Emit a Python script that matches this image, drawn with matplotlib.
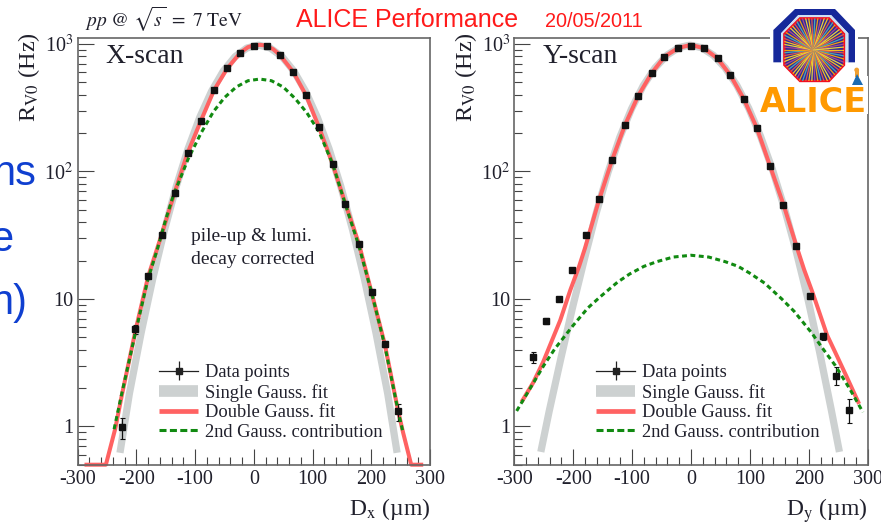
import numpy as np
import matplotlib
matplotlib.use("Agg")
import matplotlib.pyplot as plt
from matplotlib.lines import Line2D
from matplotlib.patches import Polygon, Rectangle, Circle
from matplotlib.ticker import FixedLocator, NullFormatter

plt.rcParams['font.family'] = ['Liberation Serif', 'DejaVu Sans']
plt.rcParams['mathtext.fontset'] = 'stix'
plt.rcParams['axes.unicode_minus'] = False

W, H = 881, 523

# X-scan
x_pts = [-224.5, -202, -180, -157, -135, -113, -90, -68, -45, -23, -0.5,
         22, 44, 67, 89, 111, 134, 156, 179, 201, 223, 246]
x_rate = [0.98, 5.8, 15, 32, 68, 139, 251, 433, 647, 855, 964,
          964, 824, 605, 395, 222, 115, 55.6, 27.2, 11.3, 4.46, 1.31]
x_err = [0.18, 0.45, 0.5, 0.6, 1, 2, 3, 4, 5, 6, 6,
         6, 6, 5, 4, 3, 2, 1, 0.6, 0.5, 0.25, 0.2]

x_single_x = [-228, -212, -192, -172, -152, -132, -112, -92, -72, -52, -32, -12, 8,
              28, 48, 68, 88, 108, 128, 148, 168, 188, 208, 228, 244]
x_single_y = [0.62, 1.8, 5.4, 14.5, 35, 76.6, 151, 267, 426, 614, 796, 930, 980,
              930, 796, 614, 426, 267, 151, 76.6, 35, 14.5, 5.4, 1.8, 0.62]

x_double_x = [-285, -252, -236, -225, -201, -180, -157, -135, -113, -90, -68, -45, -23,
              -10, 0, 10, 20, 33, 44, 67, 89, 111, 134, 156, 179, 201, 223, 246, 254, 268, 285]
x_double_y = [0.5, 0.5, 0.96, 1.74, 5.8, 15, 32, 68, 139, 251, 433, 647, 855,
              945, 975, 985, 975, 910, 824, 605, 395, 222, 115, 55.6, 27, 11, 4.4, 1.3, 0.9, 0.5, 0.5]

x_second_x = [-238, -225, -201, -180, -165, -150, -137, -112, -90, -69, -50, -30, -10, 10,
              30, 50, 70, 90, 111, 134, 156, 179, 201, 223, 246, 254]
x_second_y = [0.95, 1.8, 5.6, 14.5, 24, 42, 65, 125, 200, 294, 380, 460, 515, 531,
              515, 460, 375, 290, 205, 115, 55, 26, 11, 4.3, 1.3, 0.9]

# Y-scan
y_pts = [-269, -246, -224, -202, -179, -157, -134, -112, -90, -67, -45, -22, 0,
         22, 45, 67, 90, 112, 134, 157, 179, 202, 224, 246, 269]
y_rate = [3.5, 6.7, 10, 17, 31.8, 61, 123, 232, 390, 589, 795, 930, 970,
          925, 771, 568, 368, 218, 111, 55, 26.2, 10.5, 5.1, 2.5, 1.35]
y_err = [0.35, 0.35, 0.3, 0.4, 0.6, 1, 2, 3, 4, 5, 6, 6, 6,
         6, 6, 5, 4, 3, 2, 1, 0.6, 0.4, 0.3, 0.4, 0.28]

y_single_x = [-255, -241, -221, -201, -181, -161, -141, -121, -101, -81, -61, -41, -21, -2,
              18, 38, 58, 78, 98, 118, 138, 158, 178, 198, 218, 238, 252]
y_single_y = [0.63, 1.3, 3.4, 8.6, 20.5, 47, 98, 185, 310, 472, 650, 816, 936, 980,
              936, 816, 650, 472, 313, 189, 104.5, 52.6, 24.2, 10.2, 3.89, 1.36, 0.63]

y_double_x = [-286, -268, -251, -222, -205, -190, -180, -157, -134, -112, -90, -67, -45, -22, 0,
              22, 45, 67, 90, 112, 134, 157, 179, 192, 207, 231, 245, 265, 284]
y_double_y = [1.6, 2.2, 3.2, 6.8, 11.7, 18, 25, 58, 123, 232, 390, 589, 795, 930, 985,
              925, 771, 568, 368, 218, 111, 55, 26, 17, 11, 5.2, 3.8, 2.41, 1.55]

y_second_x = [-296, -270, -250, -231, -200, -175, -154, -125, -104, -80, -58, -30, 0,
              30, 58, 80, 100, 125, 154, 175, 205, 225, 245, 270, 292]
y_second_y = [1.32, 2.1, 3.0, 4.07, 6.2, 8.5, 10.4, 13.5, 15.7, 18, 19.6, 21.3, 22,
              21.3, 19.6, 18, 15.9, 13.3, 10, 8, 5.4, 4, 3.0, 1.95, 1.29]

x_ticks = [-300, -200, -100, 0, 100, 200, 300]
y_ticks = [1, 10, 100, 1000]
y_ticklabels = ['1', '10', r'10$^{2}$', r'10$^{3}$']

TEXT = '#20202c'
FRAME = '#666666'
GRAY = '#cdd1d1'
RED = '#ff6262'
GREEN = '#118a11'

fig = plt.figure(figsize=(W / 100, H / 100), dpi=100)


def make_panel(left, right, px, py, perr, sx, sy, dx, dy, gx, gy, name, xlabel):
    top, bottom = 37.5, 464.7
    ax = fig.add_axes([left / W, 1 - bottom / H, (right - left) / W, (bottom - top) / H])
    ax.set_yscale('log')
    ax.set_xlim(-300, 300)
    ax.set_ylim(0.5, 1125)

    ax.plot(sx, sy, color=GRAY, lw=5.2, solid_capstyle='butt', solid_joinstyle='round')
    ax.plot(dx, dy, color=RED, lw=2.9, solid_joinstyle='round', clip_on=False)
    ax.errorbar(px, py, yerr=perr, fmt='s', color='#111111', ms=4.8, elinewidth=0.9,
                capsize=1.8, capthick=0.8)
    ax.plot(gx, gy, color=GREEN, lw=2.2, dashes=(1.6, 1.15))

    for side in ax.spines.values():
        side.set_color(FRAME)
        side.set_linewidth(1.2)

    ax.set_xticks(x_ticks)
    ax.xaxis.set_minor_locator(FixedLocator(np.arange(-280, 300, 20)))
    ax.yaxis.set_major_locator(FixedLocator(y_ticks))
    ax.set_yticklabels(y_ticklabels)
    ax.yaxis.set_minor_locator(FixedLocator([0.5, 0.6, 0.7, 0.8, 0.9, 2, 3, 4, 5, 6, 7, 8, 9,
                                             20, 30, 40, 50, 60, 70, 80, 90,
                                             200, 300, 400, 500, 600, 700, 800, 900]))
    ax.yaxis.set_minor_formatter(NullFormatter())
    ax.tick_params(which='major', direction='in', length=11.5, width=0.8, color='#444444',
                   labelsize=14.5, labelcolor=TEXT, pad=3)
    ax.tick_params(which='minor', direction='in', length=6, width=0.8, color='#444444')
    ax.tick_params(axis='x', which='major', pad=4)

    ax.set_xlabel(xlabel, fontsize=17, color=TEXT, loc='right', labelpad=5)
    ax.set_ylabel(r'R$_{\mathrm{V0}}$ (Hz)', fontsize=17.5, color=TEXT, loc='top')
    ax.yaxis.set_label_coords(-0.1, 1.012)

    ax.text(0.079, 0.955, name, transform=ax.transAxes, fontsize=20, color=TEXT, va='center')

    points = ax.errorbar([], [], yerr=[], fmt='s-', color='#222222', ms=4.5, lw=0.9, elinewidth=0.9)
    handles = [points,
               Line2D([], [], color=GRAY, lw=8.4, solid_capstyle='butt'),
               Line2D([], [], color=RED, lw=3.4, solid_capstyle='butt'),
               Line2D([], [], color=GREEN, lw=2.2, dashes=(2.3, 1.1))]
    labels = ['Data points', 'Single Gauss. fit', 'Double Gauss. fit', '2nd Gauss. contribution']
    ax.legend(handles, labels, loc='lower left', bbox_to_anchor=(0.232, 0.056), frameon=False,
              fontsize=13.3, handlelength=2.1, handletextpad=0.38, labelspacing=0.14,
              borderpad=0, borderaxespad=0, labelcolor=TEXT)
    return ax


ax1 = make_panel(77.7, 430, x_pts, x_rate, x_err, x_single_x, x_single_y, x_double_x, x_double_y,
                 x_second_x, x_second_y, 'X-scan', r'D$_{\mathrm{x}}$ (µm)')
ax2 = make_panel(514.3, 867.7, y_pts, y_rate, y_err, y_single_x, y_single_y, y_double_x, y_double_y,
                 y_second_x, y_second_y, 'Y-scan', r'D$_{\mathrm{y}}$ (µm)')

ax1.text(0.498, 0.507, 'pile-up & lumi.\ndecay corrected', transform=ax1.transAxes, fontsize=14,
         color=TEXT, ha='center', va='center', linespacing=1.5, multialignment='left')

# overlay in pixel coordinates: slide text and logo
ov = fig.add_axes([0, 0, 1, 1], zorder=10)
ov.set_xlim(0, W)
ov.set_ylim(H, 0)
ov.axis('off')

ov.text(85, 27, r'$pp\ @\ \sqrt{s}\ =\ 7\ \mathrm{TeV}$', fontsize=14, color=TEXT, va='baseline')
ov.text(296, 27, 'ALICE Performance', family='Liberation Sans', fontsize=18, color='#ff1a1a', va='baseline')
ov.text(545, 27, '20/05/2011', family='Liberation Sans', fontsize=14.3, color='#ff1a1a', va='baseline')

BLUE = '#0f3fd0'
for txt, xr, yb in [('ns', 36, 185), ('e', 13, 251), ('n)', 27, 314)]:
    ov.text(xr, yb, txt, family='Liberation Sans', fontsize=30, color=BLUE, ha='right', va='baseline')


def logo_pts(pts):
    return [(755 + a / 3, 5 + b / 3) for a, b in pts]


ov.add_patch(Rectangle((770, 30), 88, 46, color='white', lw=0))
ov.add_patch(Rectangle((757, 76), 111, 38, color='white', lw=0))
ov.add_patch(Polygon(logo_pts([(55, 172), (55, 75), (120, 12), (240, 12), (300, 75), (300, 172), (280, 172), (280, 85),
                               (228, 30), (130, 30), (78, 85), (78, 172)]), color='#16289a', lw=0))
ov.add_patch(Polygon(logo_pts([(78, 172), (78, 85), (130, 30), (228, 30), (280, 85), (280, 172)]),
                     color='#cfe0f4', lw=0))
octagon = logo_pts([(135, 40), (222, 40), (267, 87), (267, 180), (222, 228), (135, 228), (88, 180), (88, 87)])
oct_patch = Polygon(octagon, facecolor='#2e2a96', edgecolor='#f01020', lw=1.7)
ov.add_patch(oct_patch)
cx, cy = 813.3, 50
ray_colors = ['#f5c020', '#d85a50', '#48a8b8', '#f0a010', '#a84a90', '#e8d040']
for i, ang in enumerate(np.linspace(0, 2 * np.pi, 66, endpoint=False)):
    ray = ov.plot([cx, cx + 36 * np.cos(ang)], [cy, cy + 36 * np.sin(ang)],
                  color=ray_colors[i % 6], lw=0.9)[0]
    ray.set_clip_path(oct_patch)
for r, a in [(16, 0.3), (11, 0.45), (6, 0.8)]:
    ov.add_patch(Circle((cx, cy), r, color='#f5a800', alpha=a, lw=0))
ov.add_patch(Circle((856.7, 70), 2.4, color='#f0a030', lw=0))
ov.add_patch(Polygon([(855, 71), (859, 71), (859, 77), (855, 77)], color='#f0a030', lw=0))
ov.add_patch(Polygon([(857, 74), (852, 85), (863, 85)], color='#1a6ab0', lw=0))
ov.text(813, 112.5, 'ALICE', family='DejaVu Sans', fontsize=24, fontweight='bold', color='#ff9900',
        ha='center', va='baseline')

fig.savefig('out.png', dpi=100)
